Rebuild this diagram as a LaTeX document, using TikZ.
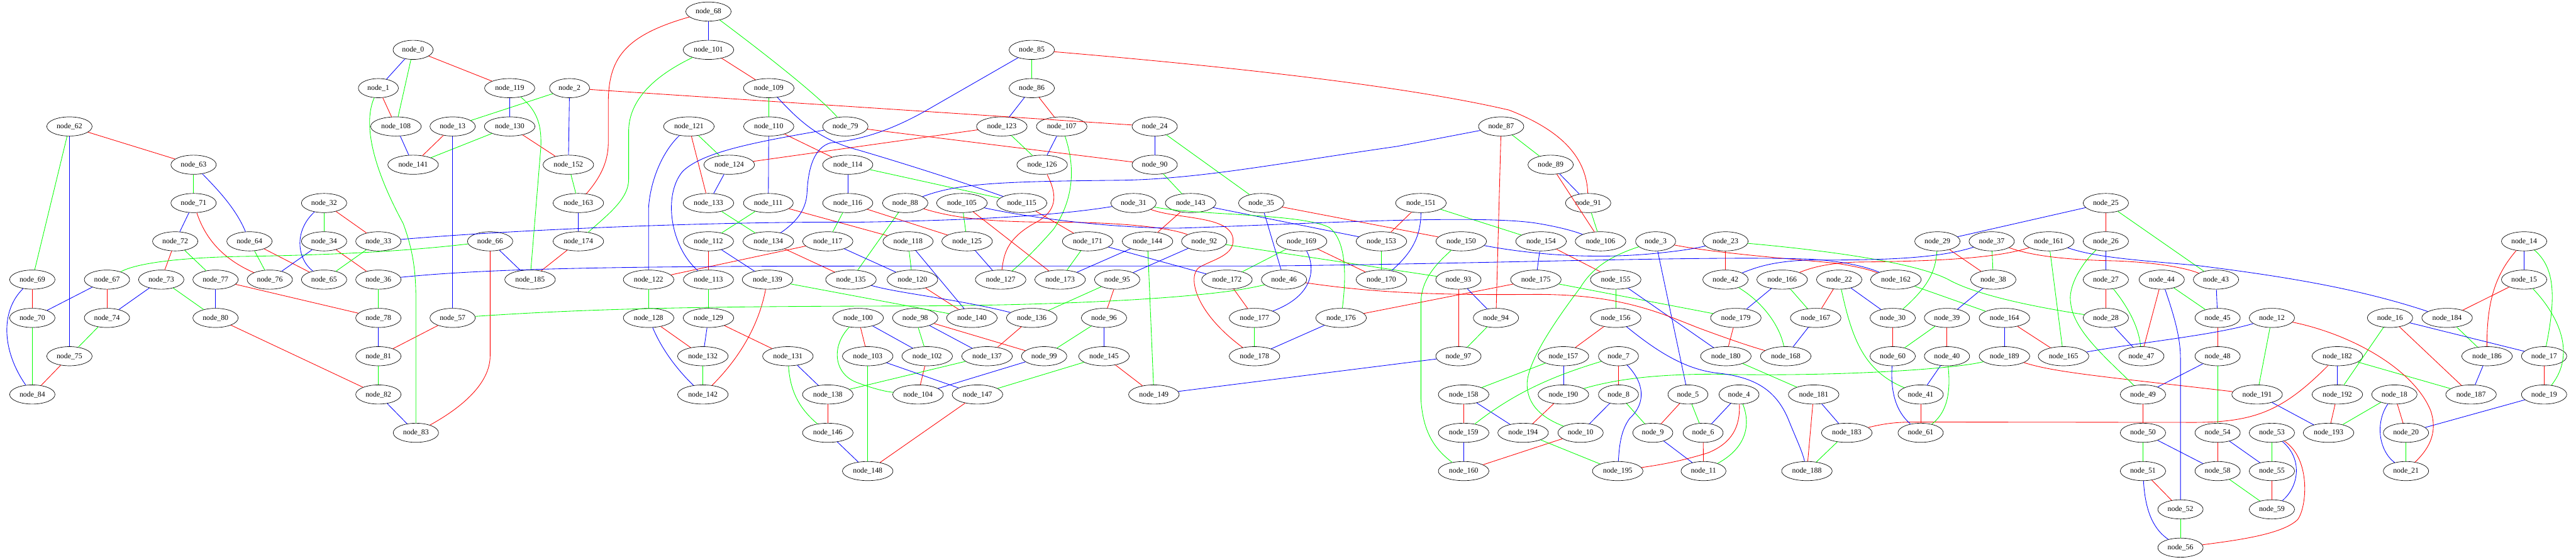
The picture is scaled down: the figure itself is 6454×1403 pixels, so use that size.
\documentclass[tikz,border=0pt]{standalone}
\usepackage{fontspec}
\setmainfont{Liberation Serif}
\usetikzlibrary{shapes.geometric}

\begin{document}
\begin{tikzpicture}[x=0.75pt, y=-0.75pt]
\tikzstyle{vertex} = [ellipse, draw, line width=0.8pt, minimum height=36pt, inner xsep=6pt, inner ysep=1pt, font=\fontsize{14}{16}\selectfont]
\tikzstyle{redline} = [draw, red, line width=1pt]
\tikzstyle{greenline} = [draw, green, line width=1pt]
\tikzstyle{blueline} = [draw, blue, line width=1pt]

\useasboundingbox (0,0) rectangle (6454,1403);

% Nodes, one rank per line
\foreach \n/\x in {68/1775}
  \node [vertex] (node\n) at (\x,29) {node\_\n};
\foreach \n/\x in {0/1035, 101/1775, 85/2585}
  \node [vertex] (node\n) at (\x,125) {node\_\n};
\foreach \n/\x in {1/948, 119/1277, 2/1427, 109/1926, 86/2585}
  \node [vertex] (node\n) at (\x,221) {node\_\n};
\foreach \n/\x in {62/174, 108/992, 13/1134, 130/1277, 121/1726, 110/1926, 79/2118, 123/2510, 107/2660, 24/2893, 87/3761}
  \node [vertex] (node\n) at (\x,317) {node\_\n};
\foreach \n/\x in {63/485, 141/1035, 152/1424, 124/1827, 114/2124, 126/2611, 90/2893, 89/3885}
  \node [vertex] (node\n) at (\x,413) {node\_\n};
\foreach \n/\x in {71/485, 32/812, 163/1449, 133/1775, 111/1925, 116/2124, 88/2268, 105/2410, 115/2560, 31/2840, 143/2983, 35/3160, 151/3560, 91/3979, 25/5276}
  \node [vertex] (node\n) at (\x,509) {node\_\n};
\foreach \n/\x in {72/439, 64/625, 34/812, 33/948, 66/1228, 174/1449, 112/1775, 134/1925, 117/2074, 118/2275, 125/2423, 171/2725, 144/2875, 92/3017, 169/3261, 153/3461, 150/3661, 154/3861, 106/4010, 3/4148, 23/4323, 29/4854, 37/4990, 161/5133, 26/5276, 14/6324}
  \node [vertex] (node\n) at (\x,605) {node\_\n};
\foreach \n/\x in {69/81, 67/268, 73/404, 77/540, 76/676, 65/812, 36/948, 185/1328, 122/1625, 113/1775, 139/1923, 135/2132, 120/2286, 127/2507, 173/2656, 95/2799, 172/3074, 46/3217, 170/3461, 93/3654, 175/3848, 155/4048, 42/4323, 166/4465, 22/4608, 162/4750, 38/4994, 27/5276, 44/5416, 43/5552, 15/6324}
  \node [vertex] (node\n) at (\x,701) {node\_\n};
\foreach \n/\x in {70/81, 74/268, 80/540, 78/948, 57/1134, 128/1625, 129/1775, 100/2150, 98/2293, 140/2435, 136/2585, 96/2766, 177/3143, 176/3360, 94/3748, 156/4048, 179/4349, 167/4549, 30/4742, 39/4878, 164/5022, 28/5276, 45/5556, 12/5692, 16/5988, 184/6131}
  \node [vertex] (node\n) at (\x,797) {node\_\n};
\foreach \n/\x in {75/174, 81/948, 132/1761, 131/1974, 103/2174, 102/2323, 137/2473, 99/2616, 145/2766, 178/3143, 97/3654, 157/3917, 7/4055, 180/4324, 168/4474, 60/4742, 40/4878, 189/5022, 165/5170, 47/5365, 48/5556, 182/5856, 186/6231, 17/6374}
  \node [vertex] (node\n) at (\x,893) {node\_\n};
\foreach \n/\x in {84/81, 82/948, 142/1761, 138/2074, 104/2300, 147/2449, 149/2891, 158/3667, 190/3917, 8/4055, 5/4229, 4/4357, 181/4544, 41/4812, 49/5369, 191/5655, 192/5856, 18/5999, 187/6191, 19/6374}
  \node [vertex] (node\n) at (\x,989) {node\_\n};
\foreach \n/\x in {83/1042, 146/2074, 159/3667, 194/3816, 10/3960, 9/4141, 6/4267, 183/4627, 61/4812, 50/5369, 54/5556, 53/5692, 193/5834, 20/6028}
  \node [vertex] (node\n) at (\x,1085) {node\_\n};
\foreach \n/\x in {148/2174, 160/3667, 195/4053, 11/4268, 188/4527, 51/5369, 58/5556, 55/5692, 21/6028}
  \node [vertex] (node\n) at (\x,1181) {node\_\n};
\foreach \n/\x in {52/5463, 59/5692}
  \node [vertex] (node\n) at (\x,1277) {node\_\n};
\node [vertex] (node56) at (5463,1373) {node\_56};

% Straight connections
\foreach \a/\b in {0/119, 1/108, 62/63, 72/73, 64/65, 32/33, 34/36, 13/141, 130/152, 101/109, 174/185, 2/24, 110/114, 121/133, 123/124, 111/118, 112/113, 134/135, 117/122, 86/107, 79/90, 116/125, 105/173, 115/171, 143/144, 35/150, 172/177, 120/140, 95/96, 87/94, 89/106, 151/153, 169/170, 154/155, 93/97, 175/176, 156/157, 7/8, 190/194, 158/159, 10/160, 5/9, 6/11, 23/42, 29/38, 25/26, 22/167, 179/180, 30/60, 39/40, 164/165, 181/188, 41/61, 27/28, 44/47, 15/184, 45/48, 16/187, 17/19, 49/50, 192/193, 18/20, 54/58, 51/52, 55/59, 69/70, 67/74, 77/78, 80/82, 57/81, 75/84, 128/132, 129/131, 138/146, 100/103, 98/99, 136/137, 102/104, 145/149, 147/148}
  \draw [redline] (node\a) -- (node\b);
\foreach \a/\b in {0/108, 62/69, 63/71, 72/77, 64/76, 32/34, 33/65, 2/13, 130/141, 152/163, 109/110, 121/124, 133/134, 111/112, 116/117, 88/135, 139/140, 85/86, 123/126, 24/35, 114/115, 90/143, 105/125, 118/120, 171/173, 144/149, 92/93, 169/172, 95/136, 87/89, 91/106, 151/154, 153/170, 175/179, 155/156, 94/97, 157/158, 8/9, 194/195, 5/6, 25/43, 37/38, 161/165, 166/167, 162/164, 39/60, 180/181, 183/188, 44/45, 12/191, 16/192, 184/186, 48/54, 182/187, 18/193, 50/51, 53/55, 20/21, 58/59, 52/56, 36/78, 70/84, 73/80, 74/75, 81/82, 122/128, 113/129, 132/142, 137/138, 98/102, 96/99, 103/148, 145/147, 177/178}
  \draw [greenline] (node\a) -- (node\b);
\foreach \a/\b in {0/1, 108/141, 62/75, 71/72, 34/76, 68/101, 119/130, 2/152, 13/57, 163/174, 66/185, 110/111, 124/133, 112/139, 114/116, 117/120, 86/123, 107/126, 24/90, 143/153, 118/140, 125/127, 171/172, 144/173, 92/95, 35/46, 89/91, 154/175, 3/5, 155/180, 176/178, 93/94, 97/149, 157/190, 8/10, 158/194, 159/160, 9/11, 4/6, 25/29, 26/27, 166/179, 22/30, 38/39, 167/168, 164/189, 28/47, 40/41, 181/183, 14/15, 43/45, 16/17, 48/49, 182/192, 186/187, 191/193, 19/20, 50/58, 54/55, 67/70, 73/74, 77/80, 78/81, 82/83, 129/132, 131/138, 146/148, 100/102, 98/137, 96/145, 103/147, 99/104}
  \draw [blueline] (node\a) -- (node\b);

% Curved connections, red
\draw [redline] (node68) .. controls (1560,90) and (1524,150) .. (1524,260) -- (1524,358) .. controls (1524,410) and (1500,450) .. (node163);
\draw [redline] (node66) -- (1228,892) .. controls (1228,960) and (1160,1020) .. (node83);
\draw [redline] (node85) .. controls (3000,160) and (3500,210) .. (3781,276) .. controls (3920,330) and (3975,400) .. (node91);
\draw [redline] (node126) .. controls (2650,490) and (2650,530) .. (2591,560) .. controls (2520,600) and (2515,640) .. (node127);
\draw [redline] (node88) .. controls (2400,550) and (2500,557) .. (2650,557) .. controls (2800,557) and (2930,570) .. (node92);
\draw [redline] (node31) .. controls (2950,550) and (3080,540) .. (3089,597) .. controls (3095,640) and (3040,650) .. (3005,670) .. controls (2975,690) and (2990,780) .. (node178);
\draw [redline] (node3) .. controls (4300,635) and (4500,650) .. (4600,660) .. controls (4650,668) and (4680,675) .. (node162);
\draw [redline] (node46) .. controls (3450,735) and (3600,740) .. (3850,738) .. controls (4050,738) and (4150,780) .. (4250,820) .. controls (4330,850) and (4390,870) .. (node168);
\draw [redline] (node4) .. controls (4360,1070) and (4340,1110) .. (4280,1135) .. controls (4200,1160) and (4140,1168) .. (node195);
\draw [redline] (node37) .. controls (5100,645) and (5200,652) .. (5300,654) .. controls (5400,658) and (5470,670) .. (node43);
\draw [redline] (node161) .. controls (5000,648) and (4850,655) .. (4650,657) .. controls (4580,660) and (4540,670) .. (node166);
\draw [redline] (node14) .. controls (6260,680) and (6230,740) .. (node186);
\draw [redline] (node12) .. controls (5900,840) and (6050,930) .. (6090,1030) .. controls (6110,1090) and (6080,1130) .. (node21);
\draw [redline] (node53) .. controls (5790,1150) and (5780,1270) .. (5757,1302) .. controls (5720,1340) and (5600,1355) .. (node56);
\draw [redline] (node183) .. controls (4720,1062) and (4750,1058) .. (4800,1058) -- (5500,1059) .. controls (5650,1058) and (5720,1030) .. (node182);
\draw [redline] (node189) .. controls (5150,935) and (5300,947) .. (node191);
\draw [redline] (node139) .. controls (1900,820) and (1850,900) .. (node142);
\draw [redline] (node71) .. controls (515,600) and (560,650) .. (node76);

% Curved connections, green
\draw [greenline] (node1) .. controls (905,320) and (945,440) .. (1010,560) .. controls (1040,640) and (1042,700) .. (1042,760) -- (node83);
\draw [greenline] (node66) .. controls (1000,632) and (800,640) .. (600,643) .. controls (450,646) and (340,660) .. (node67);
\draw [greenline] (node101) .. controls (1640,190) and (1575,250) .. (1575,330) -- (1575,450) .. controls (1575,500) and (1520,540) .. (node174);
\draw [greenline] (node119) .. controls (1350,280) and (1357,320) .. (1355,370) -- (node185);
\draw [greenline] (node107) .. controls (2695,420) and (2690,500) .. (2640,574) .. controls (2600,620) and (2560,660) .. (node127);
\draw [greenline] (node31) .. controls (3000,540) and (3260,535) .. (3330,570) .. controls (3370,600) and (3375,680) .. (node176);
\draw [greenline] (node57) .. controls (1500,772) and (1800,768) .. (2300,767) .. controls (2700,765) and (3050,745) .. (node46);
\draw [greenline] (node150) .. controls (3600,660) and (3560,700) .. (3560,760) -- (3560,1000) .. controls (3565,1090) and (3600,1130) .. (node160);
\draw [greenline] (node3) .. controls (4040,640) and (3990,670) .. (3960,720) .. controls (3900,800) and (3830,900) .. (3826,960) .. controls (3825,1020) and (3870,1050) .. (node10);
\draw [greenline] (node7) .. controls (3900,940) and (3800,980) .. (node159);
\draw [greenline] (node190) .. controls (4050,950) and (4150,938) .. (4300,938) .. controls (4600,945) and (4900,925) .. (node189);
\draw [greenline] (node4) .. controls (4385,1060) and (4380,1120) .. (node11);
\draw [greenline] (node22) .. controls (4640,850) and (4670,930) .. (node41);
\draw [greenline] (node23) .. controls (4600,630) and (4800,660) .. (4880,700) .. controls (4950,740) and (5100,770) .. (node28);
\draw [greenline] (node29) .. controls (4850,680) and (4830,720) .. (node30);
\draw [greenline] (node26) .. controls (5215,660) and (5180,720) .. (5188,760) .. controls (5195,830) and (5280,900) .. (node49);
\draw [greenline] (node42) .. controls (4420,760) and (4460,820) .. (node168);
\draw [greenline] (node40) .. controls (4890,1000) and (4870,1040) .. (node61);
\draw [greenline] (node27) .. controls (5340,780) and (5360,830) .. (node47);
\draw [greenline] (node14) .. controls (6400,670) and (6405,740) .. (node17);
\draw [greenline] (node15) .. controls (6400,780) and (6460,880) .. (node19);
\draw [greenline] (node100) .. controls (2080,870) and (2090,940) .. (2150,960) .. controls (2190,975) and (2220,982) .. (node104);
\draw [greenline] (node131) .. controls (1980,990) and (2010,1030) .. (node146);
\draw [greenline] (node68) .. controls (1950,160) and (2060,250) .. (node79);

% Curved connections, blue
\draw [blueline] (node33) .. controls (1300,575) and (1800,555) .. (2150,557) .. controls (2450,552) and (2650,540) .. (node31);
\draw [blueline] (node36) .. controls (1200,675) and (1500,667) .. (2200,667) -- (3150,667) .. controls (3700,662) and (4300,640) .. (4540,650) .. controls (4620,655) and (4680,670) .. (node162);
\draw [blueline] (node109) .. controls (2000,300) and (2050,350) .. (2150,376) .. controls (2300,420) and (2450,470) .. (node115);
\draw [blueline] (node79) .. controls (1900,355) and (1760,380) .. (1710,430) .. controls (1660,490) and (1680,620) .. (node113);
\draw [blueline] (node85) -- (2331,271) .. controls (2230,330) and (2150,352) .. (2081,358) .. controls (2040,370) and (2025,420) .. (2022,482) .. controls (2020,530) and (1990,560) .. (node134);
\draw [blueline] (node121) .. controls (1660,380) and (1630,450) .. (1625,520) -- (node122);
\draw [blueline] (node87) -- (3500,367) .. controls (3200,410) and (3000,450) .. (2800,452) .. controls (2500,455) and (2400,460) .. (node88);
\draw [blueline] (node105) .. controls (2600,550) and (2800,572) .. (2950,572) .. controls (3200,565) and (3700,535) .. (3852,560) .. controls (3900,568) and (3940,578) .. (node106);
\draw [blueline] (node135) .. controls (2250,735) and (2400,750) .. (node136);
\draw [blueline] (node151) .. controls (3560,600) and (3530,640) .. (node170);
\draw [blueline] (node169) .. controls (3295,670) and (3295,740) .. (node177);
\draw [blueline] (node150) .. controls (3850,640) and (4000,650) .. (4150,635) .. controls (4220,628) and (4250,622) .. (node23);
\draw [blueline] (node156) .. controls (4150,880) and (4220,925) .. (4300,935) .. controls (4400,945) and (4450,980) .. (4480,1050) .. controls (4500,1100) and (4515,1130) .. (node188);
\draw [blueline] (node7) .. controls (4120,960) and (4125,1010) .. (4083,1049) .. controls (4060,1080) and (4057,1120) .. (node195);
\draw [blueline] (node37) .. controls (4850,650) and (4700,652) .. (4550,652) .. controls (4450,652) and (4400,670) .. (node42);
\draw [blueline] (node161) .. controls (5250,645) and (5350,652) .. (5500,665) .. controls (5700,690) and (5900,720) .. (node184);
\draw [blueline] (node12) .. controls (5550,840) and (5350,860) .. (node165);
\draw [blueline] (node60) .. controls (4735,1000) and (4760,1040) .. (node61);
\draw [blueline] (node44) .. controls (5450,800) and (5463,850) .. (5463,900) -- (node52);
\draw [blueline] (node53) .. controls (5770,1150) and (5760,1220) .. (node59);
\draw [blueline] (node51) .. controls (5375,1290) and (5400,1330) .. (node56);
\draw [blueline] (node18) .. controls (5950,1060) and (5960,1130) .. (node21);
\draw [blueline] (node69) .. controls (0,780) and (5,880) .. (node84);
\draw [blueline] (node128) .. controls (1660,880) and (1700,930) .. (node142);
\draw [blueline] (node32) .. controls (735,580) and (745,650) .. (node65);
\draw [blueline] (node63) .. controls (540,470) and (590,520) .. (node64);

\end{tikzpicture}
\end{document}
